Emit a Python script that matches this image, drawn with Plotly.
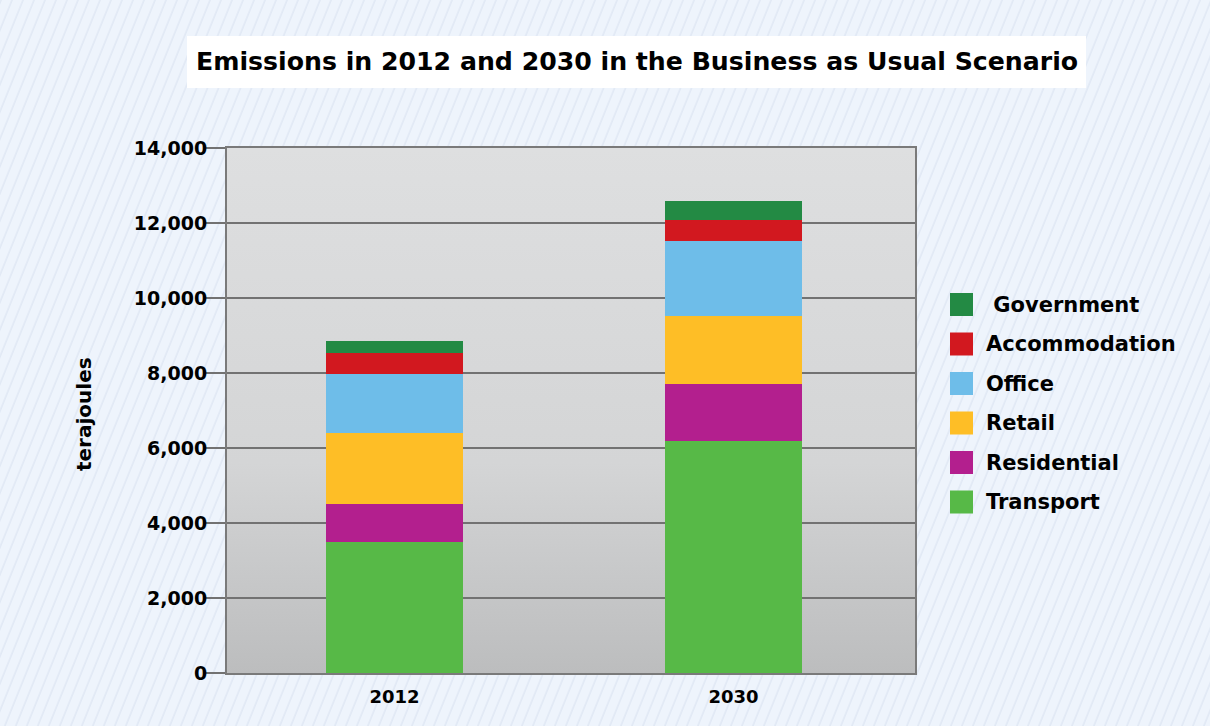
import base64
import plotly.graph_objects as go

# Emissions by sector, terajoules
years = ["2012", "2030"]
sectors = ["Transport", "Residential", "Retail", "Office", "Accommodation", "Government"]
transport = [3500, 6200]
residential = [1000, 1520]
retail = [1900, 1800]
office = [1570, 1990]
accommodation = [560, 560]
government = [320, 510]
y_ticks = [0, 2000, 4000, 6000, 8000, 10000, 12000, 14000]

series = [transport, residential, retail, office, accommodation, government]
colors = ["#57B947", "#B31F8E", "#FEBE26", "#6EBDE9", "#D2181F", "#238A44"]

W, H = 1210, 726
L, R, T, B = 227, 295, 148, 53
PW, PH = W - L - R, H - T - B
FONT = "DejaVu Sans"


def px_x(x):
    return (x - L) / PW


def px_y(y):
    return 1 - (y - T) / PH


def svg_uri(svg):
    return "data:image/svg+xml;base64," + base64.b64encode(svg.encode()).decode()


stripes_svg = f"""<svg xmlns='http://www.w3.org/2000/svg' width='{W}' height='{H}' viewBox='0 0 {W} {H}'>
<defs><pattern id='p' width='10.2' height='40' patternUnits='userSpaceOnUse' patternTransform='rotate(22)'>
<rect width='10.2' height='40' fill='#EEF4FC'/><line x1='1' y1='0' x2='1' y2='40' stroke='#DEE7F3' stroke-width='1.3'/>
</pattern></defs><rect width='{W}' height='{H}' fill='url(#p)'/></svg>"""

plot_svg = f"""<svg xmlns='http://www.w3.org/2000/svg' width='{PW}' height='{PH}' viewBox='0 0 {PW} {PH}' preserveAspectRatio='none'>
<defs><linearGradient id='g' x1='0' y1='0' x2='0' y2='1'>
<stop offset='0' stop-color='#DEDFE0'/><stop offset='0.6' stop-color='#D4D5D6'/><stop offset='1' stop-color='#BCBDBE'/>
</linearGradient></defs><rect width='{PW}' height='{PH}' fill='url(#g)'/></svg>"""

fig = go.Figure()
for name, vals, col in zip(sectors, series, colors):
    fig.add_trace(go.Bar(
        x=years, y=vals, name=name, marker=dict(color=col, line=dict(width=0)),
        width=0.404, showlegend=False,
    ))

images = [
    dict(source=svg_uri(stripes_svg), xref="paper", yref="paper",
         x=px_x(0), y=px_y(0), sizex=W / PW, sizey=H / PH,
         sizing="stretch", xanchor="left", yanchor="top", layer="below"),
    dict(source=svg_uri(plot_svg), xref="paper", yref="paper",
         x=0, y=1, sizex=1, sizey=1,
         sizing="stretch", xanchor="left", yanchor="top", layer="below"),
]

shapes = [
    # title box
    dict(type="rect", xref="paper", yref="paper",
         x0=px_x(187), x1=px_x(1086), y0=px_y(88), y1=px_y(36),
         fillcolor="white", line=dict(width=0), layer="above"),
]

annotations = [
    dict(text="Emissions in 2012 and 2030 in the Business as Usual Scenario",
         xref="paper", yref="paper", x=px_x(637), y=px_y(62),
         xanchor="center", yanchor="middle", showarrow=False,
         font=dict(family=FONT, size=25.2, color="black", weight="bold")),
    dict(text="terajoules", xref="paper", yref="paper",
         x=px_x(84), y=px_y(414), xanchor="center", yanchor="middle",
         textangle=-90, showarrow=False,
         font=dict(family=FONT, size=20, color="black", weight="bold")),
]

# legend, top entry first
row0, row_step = 304.5, 39.5
for i, (name, col) in enumerate(zip(reversed(sectors), reversed(colors))):
    cy = row0 + i * row_step
    shapes.append(dict(type="rect", xref="paper", yref="paper",
                       x0=px_x(950), x1=px_x(973), y0=px_y(cy + 11.5), y1=px_y(cy - 11.5),
                       fillcolor=col, line=dict(width=0), layer="above"))
    label = ("\u00a0" + name) if name == "Government" else name
    annotations.append(dict(text=label, xref="paper", yref="paper",
                            x=px_x(984), y=px_y(cy), xanchor="left", yanchor="middle",
                            showarrow=False,
                            font=dict(family=FONT, size=21, color="black", weight="bold")))

fig.update_layout(
    width=W, height=H, autosize=False,
    margin=dict(l=L, r=R, t=T, b=B, pad=0),
    paper_bgcolor="#EEF4FC", plot_bgcolor="rgba(0,0,0,0)",
    barmode="stack", bargap=0,
    images=images, shapes=shapes, annotations=annotations,
    showlegend=False,
    font=dict(family=FONT, color="black"),
)

fig.update_xaxes(
    type="category", range=[-0.494, 1.535],
    showgrid=False, ticks="", showline=True, mirror=True,
    linecolor="#7A7A7A", linewidth=2,
    tickfont=dict(family=FONT, size=18, color="black", weight="bold"),
    ticklabelstandoff=6,
)
fig.update_yaxes(
    range=[0, 14000], tickvals=y_ticks, tickformat=",",
    showgrid=True, gridcolor="#727272", gridwidth=1.5,
    ticks="outside", ticklen=19, tickcolor="#727272", tickwidth=1.5,
    showline=True, mirror=True, linecolor="#7A7A7A", linewidth=2,
    zeroline=False,
    tickfont=dict(family=FONT, size=19, color="black", weight="bold"),
    ticklabelstandoff=-5,
)

fig.write_html("out.html")
